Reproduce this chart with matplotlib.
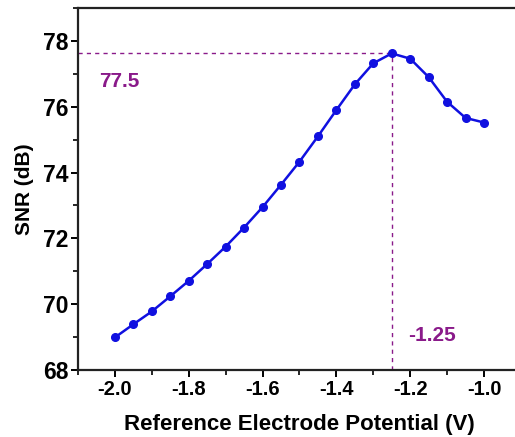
import numpy as np
import matplotlib
matplotlib.use("Agg")
import matplotlib.pyplot as plt
from matplotlib.ticker import MultipleLocator

# ── Data ──────────────────────────────────────────────────────────────────────
potential = [-2.00, -1.95, -1.90, -1.85, -1.80, -1.75, -1.70, -1.65, -1.60, -1.55,
             -1.50, -1.45, -1.40, -1.35, -1.30, -1.25, -1.20, -1.15, -1.10, -1.05, -1.00]
snr = [68.99, 69.39, 69.78, 70.24, 70.71, 71.22, 71.75, 72.33, 72.95, 73.63,
       74.33, 75.10, 75.90, 76.68, 77.32, 77.62, 77.46, 76.90, 76.15, 75.66, 75.52]

peak_x = -1.25
peak_y = 77.62
peak_label = "77.5"
peak_x_label = "-1.25"
xtick_vals = [-2.0, -1.8, -1.6, -1.4, -1.2, -1.0]
xtick_labels = ["-2.0", "-1.8", "-1.6", "-1.4", "-1.2", "-1.0"]

plt.rcParams["font.family"] = ["Liberation Sans", "DejaVu Sans"]
plt.rcParams["font.weight"] = "bold"

fig = plt.figure(figsize=(5.15, 4.37), dpi=100)
ax = fig.add_axes([0.1515, 0.1533, 0.86, 0.8284])

purple = "#8a1a8a"
# dashed guide lines to the peak
ax.plot([-2.1, peak_x], [peak_y, peak_y], ls=(0, (3, 3)), lw=1.0, color=purple)
ax.plot([peak_x, peak_x], [68, peak_y], ls=(0, (3, 3)), lw=1.0, color=purple)

ax.plot(potential, snr, marker="o", color="#1010e0", lw=1.8, markersize=5.5)

ax.text(-2.043, 76.76, peak_label, color=purple, fontsize=15, fontweight="bold",
        va="center")
ax.text(-1.205, 69.04, peak_x_label, color=purple, fontsize=15, fontweight="bold",
        va="center")

ax.set_xlim(-2.1, -0.9)
ax.set_ylim(68, 79)
ax.xaxis.set_minor_locator(MultipleLocator(0.1))
ax.yaxis.set_major_locator(MultipleLocator(2))
ax.yaxis.set_minor_locator(MultipleLocator(1))
ax.set_xticks(xtick_vals)
ax.set_xticklabels(xtick_labels)

for s in ax.spines.values():
    s.set_linewidth(1.6)
    s.set_color("#222222")
ax.tick_params(which="major", direction="out", length=5, width=1.4, pad=2)
ax.tick_params(which="minor", direction="out", length=3.5, width=1.2)
ax.tick_params(axis="x", labelsize=14.5)
ax.tick_params(axis="y", labelsize=16.5)

ax.set_xlabel("Reference Electrode Potential (V)", fontsize=16, fontweight="bold", labelpad=11)
ax.set_ylabel("SNR (dB)", fontsize=15, fontweight="bold", labelpad=6)

plt.savefig("out.png", dpi=100)
plt.close()
